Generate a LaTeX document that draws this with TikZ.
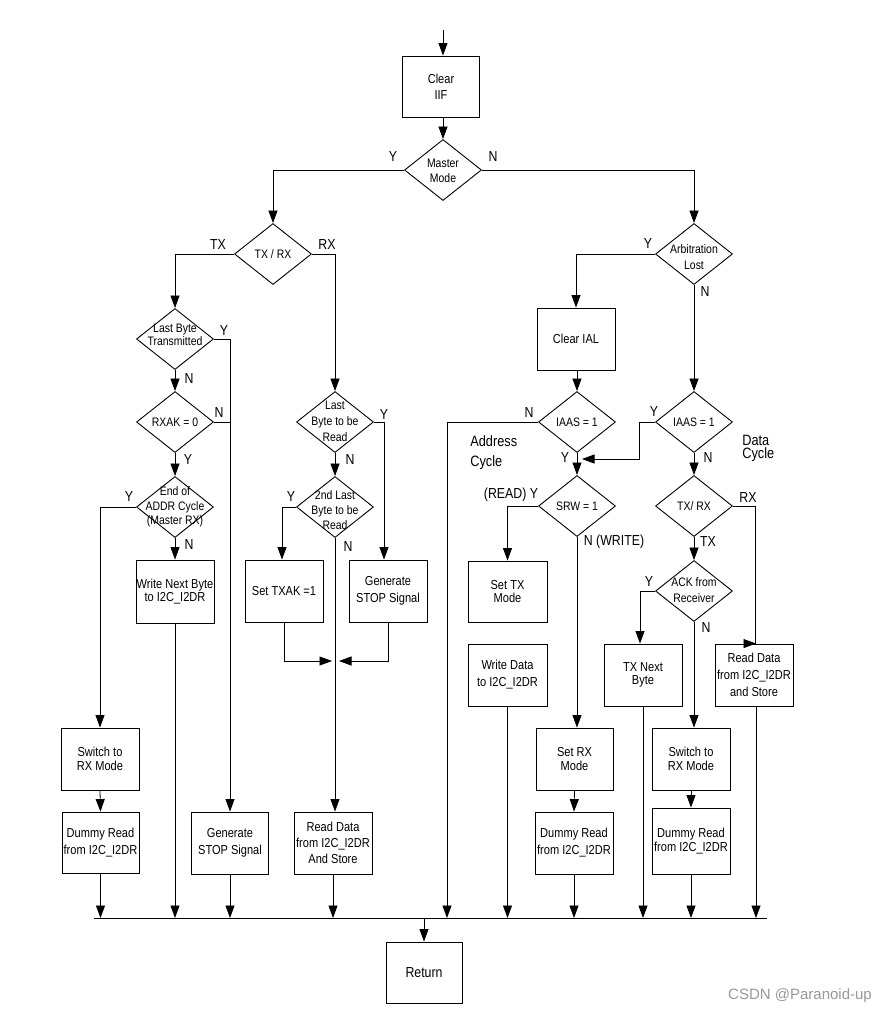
\documentclass[tikz,border=0pt]{standalone}
\usepackage{fontspec}
\setmainfont{Liberation Sans}[FakeStretch=0.85]
\newfontfamily\wmfont{Liberation Sans}
\usetikzlibrary{arrows.meta,shapes.geometric}
\begin{document}
\begin{tikzpicture}[x=1pt,y=-1pt,line width=0.8pt,
  box/.style={draw,line width=0.9pt,minimum width=78,minimum height=62,inner sep=0pt,align=center,font=\fontsize{13}{17}\selectfont},
  tight/.style={font=\fontsize{13}{13.5}\selectfont},
  dia/.style={draw,diamond,line width=0.9pt,minimum width=77,minimum height=61,inner sep=0pt},
  dt/.style={align=center,inner sep=0pt,font=\fontsize{12.3}{15.5}\selectfont},
  lab/.style={inner sep=0pt,font=\fontsize{14.5}{15}\selectfont},
  arr/.style={-{Triangle[length=12.5pt,width=9pt]}}]
\useasboundingbox (0,0) rectangle (889,1013);
\fill[white] (0,0) rectangle (889,1013);

% ---------- decision diamonds ----------
\node[dia] (mm) at (443,170) {};
\node[dia] (txrx) at (273,254) {};
\node[dia] (arb) at (694,254) {};
\node[dia] (lbt) at (175,339) {};
\node[dia] (rxak) at (175,422) {};
\node[dia] (eoa) at (175,507) {};
\node[dia] (lbr) at (335,422) {};
\node[dia] (slb) at (335,507) {};
\node[dia] (iaasl) at (577,422) {};
\node[dia] (iaasr) at (694,422) {};
\node[dia] (srw) at (577,506) {};
\node[dia] (txrx2) at (694,506) {};
\node[dia] (ack) at (694,591) {};

\node[dt] (mmt) at (443,171) {Master\\Mode};
\node[dt] (txrxt) at (273,254) {TX / RX};
\node[dt] (arbt) at (694,257) {Arbitration\\Lost};
\node[dt,font=\fontsize{12.3}{12.5}\selectfont] (lbtt) at (175,335) {Last Byte\\Transmitted};
\node[dt] (rxakt) at (175,422) {RXAK = 0};
\node[dt,font=\fontsize{12.3}{14.5}\selectfont] (eoat) at (175,507) {End of\\ADDR Cycle\\(Master RX)};
\node[dt,font=\fontsize{12.3}{16}\selectfont] (lbrt) at (335,421) {Last\\Byte to be\\Read};
\node[dt,font=\fontsize{12.3}{15}\selectfont] (slbt) at (335,510) {2nd Last\\Byte to be\\Read};
\node[dt] (iaaslt) at (577,422) {IAAS = 1};
\node[dt] (iaasrt) at (694,422) {IAAS = 1};
\node[dt] (srwt) at (577,506) {SRW = 1};
\node[dt] (txrx2t) at (694,506) {TX/ RX};
\node[dt,font=\fontsize{12.3}{16}\selectfont] (ackt) at (694,590) {ACK from\\Receiver};

% ---------- process boxes ----------
\node[box,minimum width=77,minimum height=61,font=\fontsize{13}{16}\selectfont] (clr) at (441,86.5) {Clear\\IIF};
\node[box] (clrial) at (576,339) {Clear IAL};
\node[box,tight,minimum height=63] (wnb) at (175,591.5) {Write Next Byte\\to I2C\_I2DR};
\node[box] (txak) at (284,591) {Set TXAK =1};
\node[box] (gsm) at (388,591) {Generate\\STOP Signal};
\node[box,tight] (swl) at (100,759) {Switch to\\RX Mode};
\node[box,minimum width=77,minimum height=61] (drl) at (100.5,842.5) {Dummy Read\\from I2C\_I2DR};
\node[box,minimum width=77] (gsl) at (230,843) {Generate\\STOP Signal};
\node[box,font=\fontsize{13}{16}\selectfont] (rdm) at (333,843) {Read Data\\from I2C\_I2DR\\And Store};
\node[box,tight,minimum width=79,minimum height=61] (settx) at (507.5,591.5) {Set TX\\Mode};
\node[box,minimum width=79] (wd) at (507.5,675) {Write Data\\to I2C\_I2DR};
\node[box,tight,minimum width=77] (setrx) at (574.5,759) {Set RX\\Mode};
\node[box] (drm) at (574,843) {Dummy Read\\from I2C\_I2DR};
\node[box,tight] (txnb) at (643,675) {TX Next\\Byte};
\node[box] (rds) at (754,675) {Read Data\\from I2C\_I2DR\\and Store};
\node[box,tight] (swr) at (691,759) {Switch to\\RX Mode};
\node[box,font=\fontsize{13}{14}\selectfont,minimum height=66] (drr) at (691,841) {Dummy Read\\from I2C\_I2DR};
\node[box,minimum width=76,minimum height=61,font=\fontsize{14.5}{17}\selectfont] (ret) at (424,972.5) {Return};

% ---------- coordinates ----------
\coordinate (start) at (443,30);
\coordinate (busL) at (94,918);
\coordinate (busR) at (767,918);
\coordinate (aN) at (447,918);
\coordinate (mg) at (335,661);
\coordinate (jy) at (582,459);

% ---------- connectors ----------
\draw[arr] (start) -- (start |- clr.north);
\draw[arr] (clr.south -| mm.north) -- (mm.north);
\draw[arr] (mm.west) -| (txrx.north);
\draw[arr] (mm.east) -| (arb.north);
\draw[arr] (txrx.west) -| (lbt.north);
\draw[arr] (txrx.east) -| (lbr.north);
\draw[arr] (lbt.south) -- (rxak.north);
\draw[arr] (rxak.south) -- (eoa.north);
\draw[arr] (eoa.south) -- (wnb.north);
\draw[arr] (lbt.east) -| (gsl.north);
\draw (rxak.east) -- (rxak.east -| gsl.north);
\draw[arr] (eoa.west) -| (swl.north);
\draw[arr] (swl.south) -- (drl.north);
\draw[arr] (lbr.south) -- (slb.north);
\draw[arr] (lbr.east) -| ([xshift=-4pt]gsm.north);
\draw[arr] (slb.west) -| ([xshift=-2pt]txak.north);
\draw[arr] (slb.south) -- (slb.south |- rdm.north);
\draw[arr] (txak.south) |- ([xshift=-3pt]mg);
\draw[arr] (gsm.south) |- ([xshift=4pt]mg);
\draw[arr] (arb.west) -| (clrial.north);
\draw[arr] (clrial.south -| iaasl.north) -- (iaasl.north);
\draw[arr] (arb.south) -- (iaasr.north);
\draw[arr] (iaasl.west) -| (aN);
\draw[arr] (iaasr.west) -- ++(-16,0) |- (jy);
\draw[arr] (iaasl.south) -- (srw.north);
\draw[arr] (srw.west) -| (settx.north);
\draw[arr] (srw.south) -- (srw.south |- setrx.north);
\draw[arr] (setrx.south) -- (drm.north);
\draw[arr] (iaasr.south) -- (txrx2.north);
\draw[arr] (txrx2.east) -- ++(22,0) |- ([xshift=2pt]rds.north);
\draw[arr] (txrx2.south) -- (ack.north);
\draw[arr] (ack.west) -| ([xshift=-3pt]txnb.north);
\draw[arr] (ack.south) -- (ack.south |- swr.north);
\draw[arr] (swr.south) -- (drr.north);

% bus
\draw (busL) -- (busR);
\draw[arr] (drl.south) -- (drl.south |- busL);
\draw[arr] (wnb.south) -- (wnb.south |- busL);
\draw[arr] (gsl.south) -- (gsl.south |- busL);
\draw[arr] (rdm.south) -- (rdm.south |- busL);
\draw[arr] (wd.south) -- (wd.south |- busL);
\draw[arr] (drm.south) -- (drm.south |- busL);
\draw[arr] (txnb.south) -- (txnb.south |- busL);
\draw[arr] (drr.south) -- (drr.south |- busL);
\draw[arr] ([xshift=2pt]rds.south) -- ([xshift=2pt]rds.south |- busL);
\draw[arr] (ret.north |- busL) -- (ret.north);

% ---------- branch labels ----------
\node[lab] (l1) at (393,157) {Y};
\node[lab] (l2) at (493,157) {N};
\node[lab] (l3) at (218,245) {TX};
\node[lab] (l4) at (327,245) {RX};
\node[lab] (l5) at (224,331) {Y};
\node[lab] (l6) at (189,379) {N};
\node[lab] (l7) at (219,413) {N};
\node[lab] (l8) at (188,460) {Y};
\node[lab] (l9) at (129,497) {Y};
\node[lab] (l10) at (189,545) {N};
\node[lab] (l11) at (384,415) {Y};
\node[lab] (l12) at (350,460) {N};
\node[lab] (l13) at (291,497) {Y};
\node[lab] (l14) at (348,547) {N};
\node[lab] (l15) at (648,244) {Y};
\node[lab] (l16) at (705,292) {N};
\node[lab] (l17) at (529,413) {N};
\node[lab] (l18) at (654,412) {Y};
\node[lab] (l19) at (565,458) {Y};
\node[lab] (l20) at (708,458) {N};
\node[lab] (l21) at (511,495) {(READ) Y};
\node[lab] (l22) at (614,542) {N (WRITE)};
\node[lab] (l23) at (748,498) {RX};
\node[lab] (l24) at (708,542) {TX};
\node[lab] (l25) at (649,582) {Y};
\node[lab] (l26) at (706,628) {N};
\node[inner sep=0pt,anchor=north west,align=left,font=\fontsize{15}{20}\selectfont] (addr) at (470,435) {Address\\Cycle};
\node[inner sep=0pt,anchor=north west,align=left,font=\fontsize{15}{13}\selectfont] (data) at (742,435) {Data\\Cycle};

\node[inner sep=0pt,text=black!40,font=\wmfont\fontsize{15}{17}\selectfont] (wm) at (800,996) {CSDN @Paranoid-up};
\end{tikzpicture}
\end{document}
